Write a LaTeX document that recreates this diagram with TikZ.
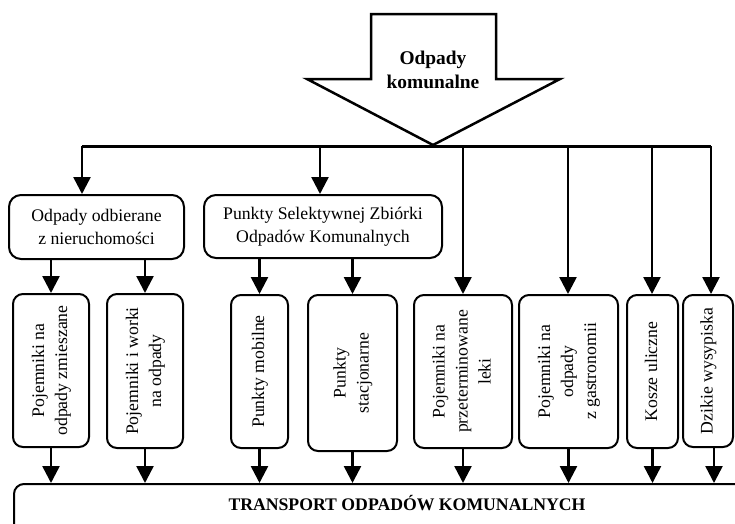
\documentclass[tikz,border=0pt]{standalone}
\usepackage{fontspec}
\setmainfont{Liberation Serif}
\usetikzlibrary{arrows.meta}
\tikzset{
  x=1pt, y=-1pt,
  txt/.style={font=\fontsize{17.7}{23}\selectfont, align=center, inner sep=0pt},
  topbox/.style={draw, line width=2pt, rounded corners=12pt, txt},
  lowbox/.style={draw, line width=2pt, rounded corners=10pt, txt},
  arr/.style={line width=2.5pt, -{Triangle[width=17pt,length=17pt]}},
  bus/.style={line width=3pt}
}
\newcommand{\vtext}[1]{\rotatebox{90}{\begin{tabular}{@{}c@{}}#1\end{tabular}}}
\begin{document}
\begin{tikzpicture}
\useasboundingbox (0,0) rectangle (735,523);

% big source arrow
\draw[line width=2.5pt, line join=miter]
  (371,14) -- (496,14) -- (496,79) -- (560,79) -- (433,145) -- (307,79) -- (371,79) -- cycle;
\node[txt, font=\fontsize{19.4}{24}\selectfont\bfseries] (src) at (433,70) {Odpady\\komunalne};

% distribution bus
\coordinate (b1) at (82,146);
\coordinate (b2) at (320,146);
\coordinate (b3) at (463,146);
\coordinate (b4) at (568,146);
\coordinate (b5) at (652,146);
\coordinate (b6) at (711,146);
\draw[bus] (b1) -- (b6);

% second level
\node[topbox, minimum width=175, minimum height=64] (u1) at (96.5,227) {Odpady odbierane\\z nieruchomości};
\node[topbox, minimum width=238, minimum height=63] (u2) at (323,226.5) {Punkty Selektywnej Zbiórki\\Odpadów Komunalnych};

% third level
\node[lowbox, minimum width=76, minimum height=153] (a) at (51,370.5) {\vtext{Pojemniki na\\odpady zmieszane}};
\node[lowbox, minimum width=76, minimum height=154] (b) at (145,371) {\vtext{Pojemniki i worki\\na odpady}};
\node[lowbox, minimum width=57, minimum height=153] (c) at (259.5,371.5) {\vtext{Punkty mobilne}};
\node[lowbox, minimum width=89, minimum height=156] (d) at (352.5,373) {\vtext{Punkty\\stacjonarne}};
\node[lowbox, minimum width=98, minimum height=153] (e) at (463,371.5) {\vtext{Pojemniki na\\przeterminowane\\leki}};
\node[lowbox, minimum width=99, minimum height=153] (f) at (568.5,371.5) {\vtext{Pojemniki na\\odpady\\z gastronomii}};
\node[lowbox, minimum width=51, minimum height=153] (g) at (652.5,371.5) {\vtext{Kosze uliczne}};
\node[lowbox, minimum width=50, minimum height=152] (h) at (708,371) {\vtext{Dzikie wysypiska}};

% transport box
\node[draw, line width=2pt, rounded corners=10pt, minimum width=788, minimum height=90, anchor=north west, inner sep=0pt] (tr) at (13,483) {};
\node[txt, font=\fontsize{17.7}{23}\selectfont\bfseries] (trtxt) at (407,503) {TRANSPORT ODPADÓW KOMUNALNYCH};

% arrows from the bus
\draw[arr] (b1) -- (b1 |- u1.north);
\draw[arr] (b2) -- (b2 |- u2.north);
\draw[arr] (b3) -- (b3 |- e.north);
\draw[arr] (b4) -- (b4 |- f.north);
\draw[arr] (b5) -- (b5 |- g.north);
\draw[arr] (b6) -- (b6 |- h.north);

% arrows from second level
\draw[arr] (u1.south -| a.north) -- (a.north);
\draw[arr] (u1.south -| b.north) -- (b.north);
\draw[arr] (u2.south -| c.north) -- (c.north);
\draw[arr] (u2.south -| d.north) -- (d.north);

% arrows into transport
\foreach \n in {a,b,c,d,e,f,g}
  \draw[arr] (\n.south) -- (\n.south |- tr.north);
\draw[arr] ([xshift=6pt]h.south) -- ([xshift=6pt]h.south |- tr.north);
\end{tikzpicture}
\end{document}
